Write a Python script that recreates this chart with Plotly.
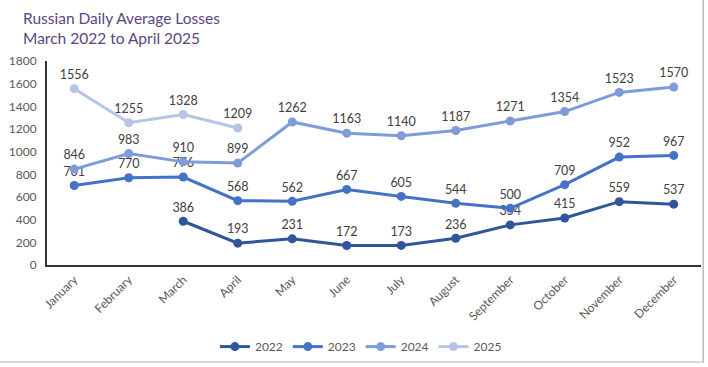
import plotly.graph_objects as go

months = ["January", "February", "March", "April", "May", "June", "July",
          "August", "September", "October", "November", "December"]
y2022 = [None, None, 386, 193, 231, 172, 173, 236, 354, 415, 559, 537]
y2023 = [701, 770, 776, 568, 562, 667, 605, 544, 500, 709, 952, 967]
y2024 = [846, 983, 910, 899, 1262, 1163, 1140, 1187, 1271, 1354, 1523, 1570]
y2025 = [1556, 1255, 1328, 1209, None, None, None, None, None, None, None, None]
years = ["2022", "2023", "2024", "2025"]
colors = ["#2F559A", "#4472C4", "#7F9BD8", "#B4C5E8"]
title_lines = ["Russian Daily Average Losses", "March 2022 to April 2025"]

FONT = "Lato, Open Sans, sans-serif"
fig = go.Figure()
for name, vals, col in zip(years, [y2022, y2023, y2024, y2025], colors):
    fig.add_trace(go.Scatter(
        x=months, y=vals, name=name, mode="lines+markers+text",
        line=dict(color=col, width=3), marker=dict(color=col, size=9),
        text=[str(v) if v is not None else "" for v in vals],
        textposition="top center",
        textfont=dict(family=FONT, size=12.5, color="#404040"),
        connectgaps=False,
    ))

annotations = []
for i, t in enumerate(title_lines):
    annotations.append(dict(text=t, xref="paper", yref="paper", x=-0.039, y=1.21 - i * 0.098,
                            xanchor="left", yanchor="middle", showarrow=False,
                            font=dict(size=15.5, color="#5B4580", family=FONT)))

fig.update_layout(
    width=708, height=367,
    margin=dict(l=47, r=7, t=61, b=102, autoexpand=False),
    paper_bgcolor="white", plot_bgcolor="white",
    font=dict(family=FONT, color="#595959"),
    annotations=annotations,
    showlegend=True,
    legend=dict(orientation="h", x=0.48, xanchor="center", y=-0.40, yanchor="middle",
                font=dict(size=12, color="#595959"), itemwidth=30,
                bgcolor="rgba(0,0,0,0)", tracegroupgap=0),
    xaxis=dict(range=[-0.5, 11.5], showline=True, linecolor="#333333", linewidth=2,
               tickangle=-45, ticks="", showgrid=False, automargin=False,
               tickfont=dict(size=12, color="#595959"), ticklabelstandoff=1),
    yaxis=dict(range=[0, 1800], dtick=200, showline=True, linecolor="#333333", linewidth=2,
               showgrid=False, ticks="", zeroline=False, automargin=False,
               tickfont=dict(size=12, color="#595959"), ticklabelstandoff=6),
    shapes=[
        dict(type="line", xref="paper", yref="paper", x0=1.0035, x1=1.0035, y0=-0.48, y1=1.3,
             line=dict(color="#BBBBBB", width=1.5)),
        dict(type="line", xref="paper", yref="paper", x0=-0.08, x1=1.0035, y0=-0.475, y1=-0.475,
             line=dict(color="#CCCCCC", width=1.5)),
    ],
)

fig.write_html("out.html", config={"displayModeBar": False},
               post_script="document.body.style.margin='0';")
